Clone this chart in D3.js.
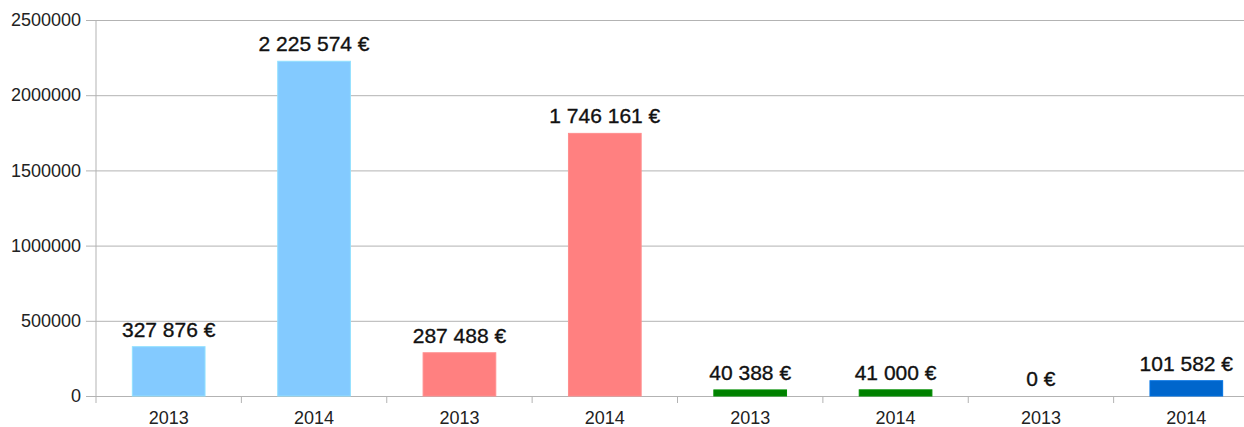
<!DOCTYPE html>
<html>
<head>
<meta charset="utf-8">
<script src="https://cdn.jsdelivr.net/npm/d3@7"></script>
<style>
  body { margin: 0; background: #fff; }
  svg { display: block; overflow: hidden; }
  .tick text, .x-label { font-family: "Liberation Sans", Arial, sans-serif; font-size: 18px; fill: #222; }
  .value-label { font-family: "Liberation Sans", Arial, sans-serif; font-size: 21px; fill: #111; stroke: #111; stroke-width: 0.35px; }
</style>
</head>
<body>
<div id="chart"></div>
<script>
const years = ['2013', '2014', '2013', '2014', '2013', '2014', '2013', '2014'];
const values = [327876, 2225574, 287488, 1746161, 40388, 41000, 0, 101582];
const barColors = ['#83caff', '#83caff', '#ff8080', '#ff8080', '#008000', '#008000', '#0066cc', '#0066cc'];
const yTickValues = [0, 500000, 1000000, 1500000, 2000000, 2500000];

const width = 1244;
const height = 427;
const margin = { top: 20, right: -15, bottom: 31, left: 96 };
const innerWidth = width - margin.left - margin.right;
const innerHeight = height - margin.top - margin.bottom;

const svg = d3.select('#chart').append('svg')
  .attr('width', width)
  .attr('height', height);

const g = svg.append('g')
  .attr('transform', `translate(${margin.left},${margin.top})`);

const xScale = d3.scaleBand()
  .domain(d3.range(values.length))
  .range([0, innerWidth])
  .padding(0);

const yScale = d3.scaleLinear()
  .domain([0, 2500000])
  .range([innerHeight, 0]);

// horizontal grid + left ticks
const yAxis = d3.axisLeft(yScale)
  .tickValues(yTickValues)
  .tickFormat(d3.format('d'))
  .tickSizeInner(-innerWidth - 10)
  .tickSizeOuter(0)
  .tickPadding(6);

const yAxisG = g.append('g').call(yAxis);
yAxisG.select('.domain').remove();
yAxisG.selectAll('.tick line')
  .attr('x1', -10)
  .attr('x2', innerWidth)
  .attr('stroke', '#b3b3b3');
yAxisG.selectAll('.tick text').attr('x', -15);

// x axis with ticks on band boundaries
const xAxisG = g.append('g').attr('transform', `translate(0,${innerHeight})`);
const boundaries = d3.range(values.length + 1).map(i => i * xScale.step());
xAxisG.selectAll('line.bound').data(boundaries).enter().append('line')
  .attr('class', 'bound')
  .attr('x1', d => d).attr('x2', d => d)
  .attr('y1', 0).attr('y2', 7)
  .attr('stroke', '#b3b3b3');
xAxisG.selectAll('text.x-label').data(years).enter().append('text')
  .attr('class', 'x-label')
  .attr('x', (d, i) => xScale(i) + xScale.bandwidth() / 2)
  .attr('y', 28)
  .attr('text-anchor', 'middle')
  .text(d => d);

// left axis line
g.append('line')
  .attr('x1', 0).attr('x2', 0)
  .attr('y1', 0).attr('y2', innerHeight)
  .attr('stroke', '#b3b3b3');

// bars
const barW = xScale.bandwidth() * 0.5;
g.selectAll('rect.bar').data(values).enter().append('rect')
  .attr('class', 'bar')
  .attr('x', (d, i) => xScale(i) + (xScale.bandwidth() - barW) / 2)
  .attr('y', d => yScale(d))
  .attr('width', barW)
  .attr('height', d => innerHeight - yScale(d))
  .attr('fill', (d, i) => barColors[i])
  .attr('stroke', (d, i) => d3.color(barColors[i]).brighter(0.3))
  .attr('stroke-width', d => d > 0 ? 1 : 0);

// value labels
const fmt = v => d3.format(',')(v).replace(/,/g, ' ') + ' €';
g.selectAll('text.value-label').data(values).enter().append('text')
  .attr('class', 'value-label')
  .attr('x', (d, i) => xScale(i) + xScale.bandwidth() / 2)
  .attr('y', d => yScale(d) - 10)
  .attr('text-anchor', 'middle')
  .text(fmt);
</script>
</body>
</html>
